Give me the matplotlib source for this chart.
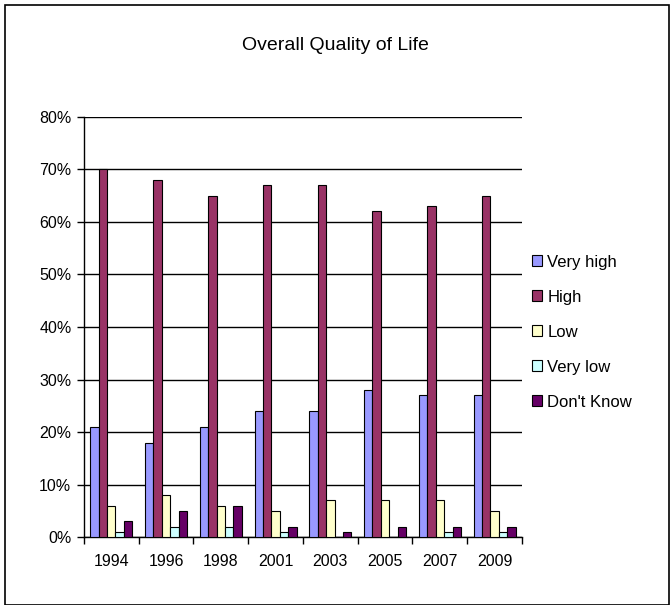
import numpy as np
import matplotlib.pyplot as plt
from matplotlib.patches import Rectangle
from matplotlib.ticker import FuncFormatter

plt.rcParams['font.family'] = ['Liberation Sans', 'DejaVu Sans']

years = ['1994', '1996', '1998', '2001', '2003', '2005', '2007', '2009']
series_names = ['Very high', 'High', 'Low', 'Very low', "Don't Know"]
very_high = [21, 18, 21, 24, 24, 28, 27, 27]
high = [70, 68, 65, 67, 67, 62, 63, 65]
low = [6, 8, 6, 5, 7, 7, 7, 5]
very_low = [1, 2, 2, 1, 0, 0, 1, 1]
dont_know = [3, 5, 6, 2, 1, 2, 2, 2]
colors = ['#9999FF', '#993366', '#FFFFCC', '#CCFFFF', '#660066']

all_series = [very_high, high, low, very_low, dont_know]

fig = plt.figure(figsize=(6.71, 6.05), dpi=100)
# outer chart border
fig.patches.append(Rectangle((0.007, 0.0), 0.99, 0.992, transform=fig.transFigure,
                             fill=False, edgecolor='black', linewidth=1.2))

ax = fig.add_axes([0.125, 0.112, 0.653, 0.695])

n = len(years)
x = np.arange(n)
w = 1 / 6.5  # Excel default gap width 150%
for i, (vals, c) in enumerate(zip(all_series, colors)):
    offs = (i - 2) * w
    ax.bar(x + offs, np.array(vals) / 100, width=w, color=c, edgecolor='black',
           linewidth=0.8, label=series_names[i], zorder=3)

ax.set_xlim(-0.5, n - 0.5)
ax.set_ylim(0, 0.8)
ax.set_yticks(np.arange(0, 0.81, 0.1))
ax.yaxis.set_major_formatter(FuncFormatter(lambda v, p: f'{v*100:.0f}%'))
ax.grid(axis='y', color='black', linewidth=1, zorder=0)
ax.set_axisbelow(True)

# category ticks at boundaries, labels centred
ax.set_xticks(np.arange(-0.5, n, 1))
ax.set_xticklabels([])
ax.set_xticks(x, minor=True)
ax.set_xticklabels(years, minor=True)
ax.tick_params(axis='x', which='major', direction='out', length=5, width=1)
ax.tick_params(axis='x', which='minor', length=0, pad=12, labelsize=11.5)
ax.tick_params(axis='y', direction='out', length=5, width=1, labelsize=11.5, pad=4)

for s in ['top', 'right']:
    ax.spines[s].set_visible(False)
for s in ['left', 'bottom']:
    ax.spines[s].set_linewidth(1)

fig.text(0.5, 0.924, 'Overall Quality of Life', ha='center', va='center', fontsize=14)

leg = fig.legend(loc='center left', bbox_to_anchor=(0.771, 0.451), frameon=False,
                 fontsize=12, handlelength=0.6, handleheight=0.6, handletextpad=0.3,
                 labelspacing=1.2)

fig.savefig('out.png', dpi=100)
